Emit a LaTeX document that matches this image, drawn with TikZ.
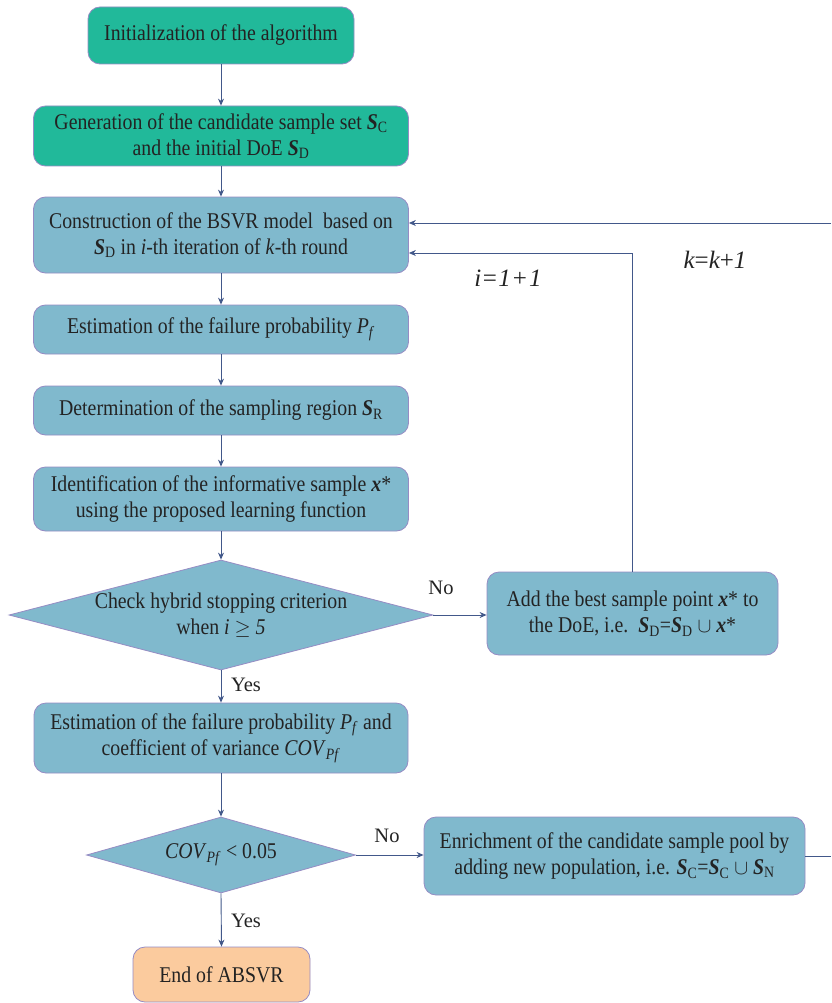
\documentclass[tikz,border=0pt]{standalone}
\usepackage{fontspec}
\setmainfont{Liberation Serif}[FakeStretch=0.88]
\newfontfamily\labfont{Liberation Serif}
\usetikzlibrary{shapes.geometric,arrows.meta}
\definecolor{tealc}{RGB}{33,185,154}
\definecolor{bluec}{RGB}{128,185,205}
\definecolor{peachc}{RGB}{251,203,158}
\definecolor{bordc}{RGB}{150,140,196}
\definecolor{arrc}{RGB}{66,88,138}
\definecolor{txtc}{RGB}{35,35,35}
\newcommand{\bS}[1]{\textbf{\textit{S}}\textsubscript{#1}}
\newcommand{\bx}{\textbf{\textit{x}}*}
\begin{document}
\begin{tikzpicture}[x=1pt,y=-1pt,
  base/.style={draw=bordc, line width=0.8pt, text=txtc, font=\rmfamily\fontsize{22.5}{26.5}\selectfont, align=center, inner sep=0pt},
  rbox/.style={base, rectangle, rounded corners=12pt},
  tbox/.style={rbox, fill=tealc},
  bbox/.style={rbox, fill=bluec},
  ebox/.style={rbox, fill=peachc},
  dec/.style={base, diamond, fill=bluec, inner sep=-30pt},
  arr/.style={draw=arrc, line width=0.9pt, -{Stealth[length=7pt,width=6pt]}},
  lab/.style={text=txtc, font=\labfont\fontsize{20.5}{24}\selectfont, inner sep=0pt},
  biglab/.style={text=txtc, font=\labfont\fontsize{25}{28}\selectfont\itshape, inner sep=0pt}]
\useasboundingbox (0,0) rectangle (831,1003);
\fill[white] (0,0) rectangle (831,1003);

\node[tbox, minimum width=266pt, minimum height=57pt] (init) at (221,35.5) {Initialization of the algorithm};
\node[tbox, minimum width=375pt, minimum height=60pt] (gen) at (221,136) {Generation of the candidate sample set \bS{C}\\and the initial DoE \bS{D}};
\node[bbox, minimum width=375pt, minimum height=76pt] (cons) at (221,235) {Construction of the BSVR model\ \ based on\\\bS{D} in \textit{i}-th iteration of \textit{k}-th round};
\node[bbox, minimum width=375pt, minimum height=49pt] (est) at (221,329.5) {Estimation of the failure probability \textit{P}\textsubscript{\textit{f}}};
\node[bbox, minimum width=375pt, minimum height=49pt] (det) at (221,410.5) {Determination of the sampling region \bS{R}};
\node[bbox, minimum width=375pt, minimum height=64pt] (iden) at (221,499) {Identification of the informative sample \bx\\using the proposed learning function};
\node[dec, minimum width=424pt, minimum height=110pt, aspect=3.85] (d1) at (221,615) {Check hybrid stopping criterion\\when \textit{i} $\geq$ \textit{5}};
\node[bbox, minimum width=291pt, minimum height=83pt] (add) at (632.5,613.5) {Add the best sample point \bx{} to\\the DoE, i.e.\ \ \bS{D}=\bS{D} $\cup$ \bx};
\node[bbox, minimum width=374pt, minimum height=70pt] (est2) at (221,738) {Estimation of the failure probability \textit{P}\textsubscript{\textit{f}} and\\coefficient of variance \textit{COV}\textsubscript{\textit{Pf}}};
\node[dec, minimum width=269pt, minimum height=76pt, aspect=3.54] (d2) at (221,855) {\textit{COV}\textsubscript{\textit{Pf}} < 0.05};
\node[bbox, minimum width=381pt, minimum height=78pt] (enr) at (614.5,856) {Enrichment of the candidate sample pool by\\adding new population, i.e. \bS{C}=\bS{C} $\cup$ \bS{N}};
\node[ebox, minimum width=177pt, minimum height=55pt] (end) at (221.5,974.5) {End of ABSVR};

\coordinate (r1) at (831,856);
\coordinate (r2) at (831,223);

\draw[arr] (init) -- (gen);
\draw[arr] (gen) -- (cons);
\draw[arr] (cons) -- (est);
\draw[arr] (est) -- (det);
\draw[arr] (det) -- (iden);
\draw[arr] (iden) -- (d1);
\draw[arr] (d1.east) -- (add.west |- d1.east);
\draw[arr] (add.north) |- ([yshift=-18pt]cons.east);
\draw[arr] (d1.south) -- (est2.north);
\draw[arr] (est2) -- (d2);
\draw[arr] (d2.east) -- (enr.west |- d2.east);
\draw[arr] (d2.south) -- (end.north);
\draw[draw=arrc, line width=0.9pt] (enr.east |- r1) -- (r1);
\draw[arr] (r2) -- ([yshift=12pt]cons.east);

\node[lab] (no1) at (441,588) {No};
\node[lab] (yes1) at (246,685) {Yes};
\node[lab] (no2) at (387,836) {No};
\node[lab] (yes2) at (246,921) {Yes};
\node[biglab] (li) at (508,278) {i\kern1.5pt{\upshape =}\kern1.5pt1\kern2pt{\upshape +}\kern2pt1};
\node[biglab] (lk) at (715,260) {k{\upshape =}k{\upshape +}1};
\end{tikzpicture}
\end{document}
